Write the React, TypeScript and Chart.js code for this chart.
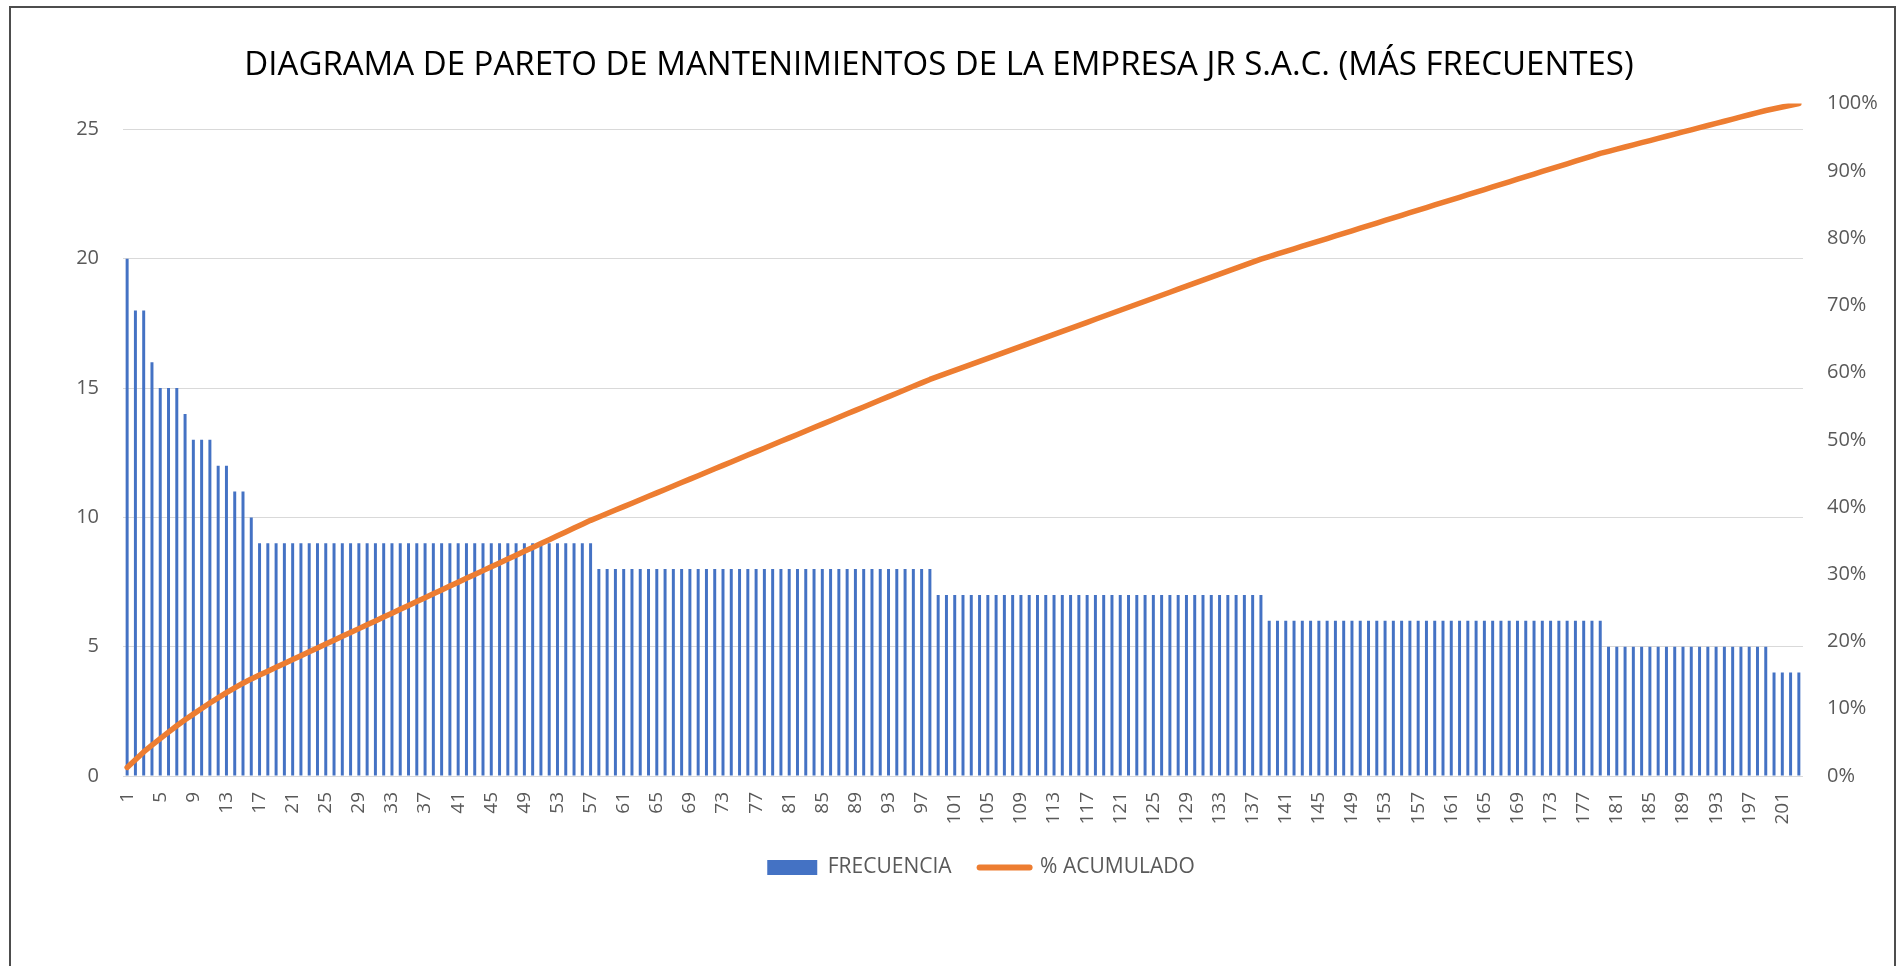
import { useEffect, useRef } from "react";
import { Chart, registerables } from "chart.js";

Chart.register(...registerables);

const TITLE = "DIAGRAMA DE PARETO DE MANTENIMIENTOS DE LA EMPRESA JR S.A.C. (MÁS FRECUENTES)";
const BAR_LABEL = "FRECUENCIA";
const LINE_LABEL = "% ACUMULADO";

// Frequency of each maintenance item (items 1..203)
const frecuencia: number[] = [
  // 1–16
  20, 18, 18, 16, 15, 15, 15, 14, 13, 13, 13, 12, 12, 11, 11, 10,
  // 17–57
  9, 9, 9, 9, 9, 9, 9, 9, 9, 9,
  9, 9, 9, 9, 9, 9, 9, 9, 9, 9,
  9, 9, 9, 9, 9, 9, 9, 9, 9, 9,
  9, 9, 9, 9, 9, 9, 9, 9, 9, 9,
  9,
  // 58–98
  8, 8, 8, 8, 8, 8, 8, 8, 8, 8,
  8, 8, 8, 8, 8, 8, 8, 8, 8, 8,
  8, 8, 8, 8, 8, 8, 8, 8, 8, 8,
  8, 8, 8, 8, 8, 8, 8, 8, 8, 8,
  8,
  // 99–138
  7, 7, 7, 7, 7, 7, 7, 7, 7, 7,
  7, 7, 7, 7, 7, 7, 7, 7, 7, 7,
  7, 7, 7, 7, 7, 7, 7, 7, 7, 7,
  7, 7, 7, 7, 7, 7, 7, 7, 7, 7,
  // 139–179
  6, 6, 6, 6, 6, 6, 6, 6, 6, 6,
  6, 6, 6, 6, 6, 6, 6, 6, 6, 6,
  6, 6, 6, 6, 6, 6, 6, 6, 6, 6,
  6, 6, 6, 6, 6, 6, 6, 6, 6, 6,
  6,
  // 180–199
  5, 5, 5, 5, 5, 5, 5, 5, 5, 5,
  5, 5, 5, 5, 5, 5, 5, 5, 5, 5,
  // 200–203
  4, 4, 4, 4,
];

// Category labels: item numbers 1..203
const categorias: string[] = frecuencia.map((_, i) => String(i + 1));

// Cumulative share (Pareto line) derived from the frequencies
const totalFrecuencia = frecuencia.reduce((a, b) => a + b, 0);
const acumulado: number[] = [];
frecuencia.reduce((run, v) => {
  const next = run + v;
  acumulado.push(next / totalFrecuencia);
  return next;
}, 0);

const leftTickValues = [0, 5, 10, 15, 20, 25];
const LEFT_MAX = 26;

const FONT = "'Open Sans', 'DejaVu Sans', sans-serif";
const GREY_TEXT = "#595959";
const GRID = "#D9D9D9";
const BLUE = "#4472C4";
const ORANGE = "#ED7D31";

const legendShift = {
  id: "legendShift",
  afterLayout(chart: any) {
    const l = chart.legend;
    if (l) {
      l.left += 42;
      l.right += 42;
    }
  },
};

export default function App() {
  const ref = useRef<HTMLCanvasElement | null>(null);

  useEffect(() => {
    const canvas = ref.current;
    if (!canvas) return;
    const chart = new Chart(canvas, {
      type: "bar",
      plugins: [legendShift],
      data: {
        labels: categorias,
        datasets: [
          {
            type: "bar",
            label: BAR_LABEL,
            data: frecuencia,
            backgroundColor: BLUE,
            borderWidth: 0,
            barPercentage: 0.36,
            categoryPercentage: 1,
            yAxisID: "y",
            order: 2,
          },
          {
            type: "line",
            label: LINE_LABEL,
            data: acumulado,
            borderColor: ORANGE,
            backgroundColor: ORANGE,
            borderWidth: 5.5,
            pointRadius: 0,
            tension: 0,
            borderCapStyle: "round",
            borderJoinStyle: "round",
            yAxisID: "y1",
            order: 1,
          },
        ] as any,
      },
      options: {
        responsive: false,
        devicePixelRatio: 1,
        animation: false,
        layout: { padding: { top: 8, left: 0, right: 20, bottom: 78 } },
        plugins: {
          tooltip: { enabled: false },
          title: {
            display: true,
            text: TITLE,
            color: "#000000",
            font: { family: FONT, size: 33, weight: "normal", lineHeight: 1.2 },
            padding: { top: 38, bottom: 18 },
          },
          legend: {
            display: true,
            position: "bottom",
            labels: {
              color: GREY_TEXT,
              font: { family: FONT, size: 21 },
              usePointStyle: true,
              pointStyleWidth: 50,
              boxHeight: 15,
              padding: 28,
              generateLabels: () => [
                {
                  text: BAR_LABEL,
                  fillStyle: BLUE,
                  strokeStyle: BLUE,
                  lineWidth: 0,
                  pointStyle: "rect",
                  fontColor: GREY_TEXT,
                  datasetIndex: 0,
                  hidden: false,
                } as any,
                {
                  text: LINE_LABEL,
                  fillStyle: ORANGE,
                  strokeStyle: ORANGE,
                  lineWidth: 6,
                  lineCap: "round",
                  pointStyle: "line",
                  fontColor: GREY_TEXT,
                  datasetIndex: 1,
                  hidden: false,
                } as any,
              ],
            },
          },
        },
        scales: {
          x: {
            type: "category",
            offset: true,
            grid: { display: false, drawTicks: false },
            border: { display: false },
            ticks: {
              autoSkip: false,
              maxRotation: 90,
              minRotation: 90,
              padding: 16,
              color: GREY_TEXT,
              font: { family: FONT, size: 19 },
              callback: (_v: any, i: number) => (i % 4 === 0 ? categorias[i] : ""),
            },
            afterFit: (scale: any) => {
              scale.height = 53;
            },
          },
          y: {
            type: "linear",
            position: "left",
            min: 0,
            max: LEFT_MAX,
            grid: { color: GRID, lineWidth: 1, drawTicks: false },
            border: { display: false },
            ticks: {
              stepSize: 5,
              padding: 24,
              color: GREY_TEXT,
              font: { family: FONT, size: 20 },
            },
            afterBuildTicks: (scale: any) => {
              scale.ticks = leftTickValues.map((v) => ({ value: v }));
            },
            afterFit: (scale: any) => {
              scale.width = 123;
            },
          },
          y1: {
            type: "linear",
            position: "right",
            min: 0,
            max: 1,
            grid: { display: false, drawTicks: false },
            border: { display: false },
            ticks: {
              stepSize: 0.1,
              padding: 24,
              color: GREY_TEXT,
              font: { family: FONT, size: 20 },
              callback: (v: any) => `${Math.round(Number(v) * 100)}%`,
            },
            afterFit: (scale: any) => {
              scale.width = 75;
            },
          },
        },
      } as any,
    });
    return () => chart.destroy();
  }, []);

  return (
    <div
      style={{
        position: "fixed",
        left: 0,
        top: 0,
        width: 1898,
        height: 966,
        overflow: "hidden",
        background: "#ffffff",
      }}
    >
      <canvas
        ref={ref}
        width={1898}
        height={966}
        style={{ position: "absolute", left: 0, top: 0, display: "block", width: 1898, height: 966 }}
      />
      <div
        style={{
          position: "absolute",
          left: 9,
          top: 6,
          width: 1887,
          height: 1100,
          border: "2px solid #4d4d4d",
          boxSizing: "border-box",
          pointerEvents: "none",
        }}
      />
    </div>
  );
}
